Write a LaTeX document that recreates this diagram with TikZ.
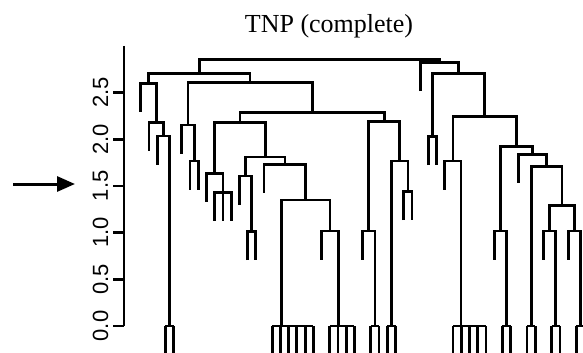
\documentclass[tikz,border=0pt]{standalone}
\usepackage{fontspec}
\setmainfont{Liberation Serif}
\newfontfamily\axisfont{Liberation Sans}
\usetikzlibrary{arrows.meta}

% a row of leaves joined at height zero, leaf k sits at x = 140.7 + 8.22 k
\newcommand\leafrow[2]{%
  \draw[branch] ({140.7+8.22*#1},326) -- ({140.7+8.22*#2},326);
  \foreach \k in {#1,...,#2}
    \draw[branch] ({140.7+8.22*\k},326) -- ({140.7+8.22*\k},356);
}
% join two children at a merge point
\newcommand\join[3]{\draw[branch] (#2) |- (#1) -| (#3);}

\begin{document}
\begin{tikzpicture}[x=1pt,y={(0pt,-1pt)},
  branch/.style={line width=2.8pt},
  axisline/.style={line width=2.8pt},
  ticklabel/.style={font=\axisfont\fontsize{22}{22}\selectfont, rotate=90, anchor=center},
  pointer/.style={line width=3pt, -{Triangle[length=18pt,width=15pt]}}]
\useasboundingbox (0,0) rectangle (583,353);

% title
\node[anchor=base, font=\fontsize{26}{26}\selectfont] (title) at (329,32.3) {TNP (complete)};

% height axis
\draw[axisline] (124,46) -- (124,326);
\foreach \v/\y in {0.0/326,0.5/279.3,1.0/232.6,1.5/185.9,2.0/139.2,2.5/92.5}{
  \draw[axisline] (113,\y) -- (124,\y);
  \node[ticklabel] at (100.5,\y) {\v};
}

% pointer at height 1.5
\coordinate (ptail) at (13,184);
\coordinate (phead) at (75,184);
\draw[pointer] (ptail) -- (phead);

\begin{scope}
\clip (0,0) rectangle (583,353);

% leaves joined at height zero
\leafrow{3}{4}   \coordinate (z3)  at (169.5,326);
\leafrow{16}{21} \coordinate (z16) at (281.7,326);
\leafrow{23}{26} \coordinate (z23) at (338.3,326);
\leafrow{28}{29} \coordinate (z28) at (375.0,326);
\leafrow{30}{31} \coordinate (z30) at (391.4,326);
\leafrow{38}{42} \coordinate (z38) at (461.0,326);
\leafrow{44}{45} \coordinate (z44) at (506.5,326);
\leafrow{47}{48} \coordinate (z47) at (531.1,326);
\leafrow{50}{51} \coordinate (z50) at (555.8,326);
\leafrow{53}{54} \coordinate (z53) at (580.5,326);

% hanging leaf ends
\coordinate (l0)  at (140.7,111.8);
\coordinate (l1)  at (148.9,150.8);
\coordinate (l2)  at (157.1,164.5);
\coordinate (l5)  at (181.8,153.5);
\coordinate (l6)  at (190.0,189.5);
\coordinate (l7)  at (198.2,189.5);
\coordinate (l8)  at (206.5,201.8);
\coordinate (l12) at (239.3,204.5);
\coordinate (l13) at (247.6,260.2);
\coordinate (l14) at (255.8,260.2);
\coordinate (l15) at (264.0,192.8);
\coordinate (l22) at (321.5,259.5);
\coordinate (l27) at (362.6,259.5);
\coordinate (l32) at (403.7,220.2);
\coordinate (l33) at (412.0,220.2);
\coordinate (l34) at (420.2,91.2);
\coordinate (l35) at (428.4,165.2);
\coordinate (l36) at (436.6,165.2);
\coordinate (l37) at (444.8,189.5);
\coordinate (l43) at (494.2,259.5);
\coordinate (l46) at (518.8,182.8);
\coordinate (l49) at (543.5,259.5);
\coordinate (l52) at (568.1,259.5);

% three leaves joined at one height
\coordinate (t9) at (222.9,192.3);
\draw[branch] (214.7,220.8) |- (231.1,192.3) -- (231.1,220.8);
\draw[branch] (t9) -- (222.9,220.8);

% merge points
\coordinate (m3)  at (163.3,136);
\coordinate (m2)  at (156.1,122.3);
\coordinate (m1)  at (148.4,83.3);
\coordinate (b1a) at (194.1,161);
\coordinate (b1)  at (188,125);
\coordinate (c1)  at (214.7,173.3);
\coordinate (c2p) at (251.7,231.7);
\coordinate (c2a) at (245.5,176);
\coordinate (e2)  at (329.9,231);
\coordinate (e)   at (305.8,200);
\coordinate (c2b) at (284.9,164.3);
\coordinate (c2)  at (265.2,157);
\coordinate (c)   at (240,122.3);
\coordinate (d1)  at (368.8,231);
\coordinate (d2p) at (407.9,191.7);
\coordinate (d2)  at (399.6,161);
\coordinate (d)   at (384.2,121.7);
\coordinate (b2)  at (312.1,112.5);
\coordinate (b)   at (250,82.3);
\coordinate (tl)  at (199.2,73.3);
\coordinate (r1p) at (432.5,136.7);
\coordinate (r2a) at (452.9,161);
\coordinate (r3)  at (500.35,231);
\coordinate (r6a) at (549.6,231);
\coordinate (r6b) at (574.3,231);
\coordinate (r6)  at (562,205.7);
\coordinate (r5)  at (546.5,166.7);
\coordinate (r4)  at (532.7,154.3);
\coordinate (r2b) at (516.5,146.7);
\coordinate (r2)  at (484.7,116.7);
\coordinate (r1)  at (458.6,73.3);
\coordinate (r)   at (439.4,62.7);
\coordinate (top) at (319.3,59.3);

% left part of the tree
\join{m3}{l2}{z3}
\join{m2}{l1}{m3}
\join{m1}{l0}{m2}
\join{b1a}{l6}{l7}
\join{b1}{l5}{b1a}
\join{c1}{l8}{t9}
\join{c2p}{l13}{l14}
\join{c2a}{l12}{c2p}
\join{e2}{l22}{z23}
\join{e}{z16}{e2}
\join{c2b}{l15}{e}
\join{c2}{c2a}{c2b}
\join{c}{c1}{c2}
\join{d1}{l27}{z28}
\join{d2p}{l32}{l33}
\join{d2}{z30}{d2p}
\join{d}{d1}{d2}
\join{b2}{c}{d}
\join{b}{b1}{b2}
\join{tl}{m1}{b}

% right part of the tree
\join{r1p}{l35}{l36}
\join{r2a}{l37}{z38}
\join{r3}{l43}{z44}
\join{r6a}{l49}{z50}
\join{r6b}{l52}{z53}
\join{r6}{r6a}{r6b}
\join{r5}{z47}{r6}
\join{r4}{l46}{r5}
\join{r2b}{r3}{r4}
\join{r2}{r2a}{r2b}
\join{r1}{r1p}{r2}
\join{r}{l34}{r1}

% root
\join{top}{tl}{r}
\end{scope}
\end{tikzpicture}
\end{document}
